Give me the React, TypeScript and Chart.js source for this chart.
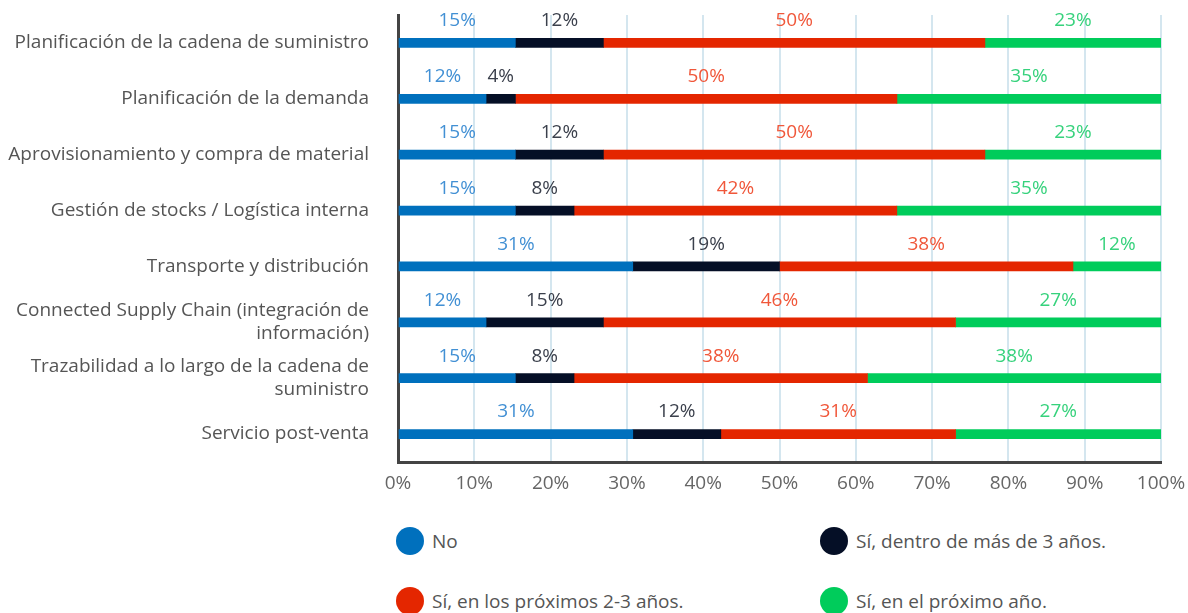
import React, { useEffect, useRef } from "react";
import { Chart, registerables } from "chart.js";

Chart.register(...registerables);

const categories: (string | string[])[] = [
  "Planificación de la cadena de suministro",
  "Planificación de la demanda",
  "Aprovisionamiento y compra de material",
  "Gestión de stocks / Logística interna",
  "Transporte y distribución",
  ["Connected Supply Chain (integración de", "información)"],
  ["Trazabilidad a lo largo de la cadena de", "suministro"],
  "Servicio post-venta",
];

const seriesNames = [
  "No",
  "Sí, dentro de más de 3 años.",
  "Sí, en los próximos 2-3 años.",
  "Sí, en el próximo año.",
];

const noValues = [15.38, 11.54, 15.38, 15.38, 30.77, 11.54, 15.38, 30.77];
const masDe3Values = [11.54, 3.85, 11.54, 7.69, 19.23, 15.38, 7.69, 11.54];
const proximos23Values = [50, 50, 50, 42.31, 38.46, 46.15, 38.46, 30.77];
const proximoAnoValues = [23.08, 34.62, 23.08, 34.62, 11.54, 26.92, 38.46, 26.92];

const barColors = ["#0070bd", "#050f26", "#e42600", "#00cc5b"];
const labelColors = ["#4290d4", "#3b404c", "#f0573a", "#36d27c"];

const FONT = "'Open Sans', sans-serif";
const WEIGHT = "400";

const segmentLabels = {
  id: "segmentLabels",
  afterDatasetsDraw(chart: any) {
    const ctx = chart.ctx;
    ctx.save();
    ctx.font = `${WEIGHT} 19px ${FONT}`;
    ctx.textAlign = "center";
    ctx.textBaseline = "middle";
    chart.data.datasets.forEach((ds: any, di: number) => {
      const meta = chart.getDatasetMeta(di);
      meta.data.forEach((bar: any, i: number) => {
        const v = ds.data[i];
        const left = Math.min(bar.x, bar.base);
        const right = Math.max(bar.x, bar.base);
        const cx = (left + right) / 2;
        ctx.fillStyle = labelColors[di];
        ctx.fillText(Math.round(v) + "%", cx, bar.y - 22);
      });
    });
    ctx.restore();
  },
};

export default function App() {
  const ref = useRef<HTMLCanvasElement>(null);
  useEffect(() => {
    if (!ref.current) return;
    const allValues = [noValues, masDe3Values, proximos23Values, proximoAnoValues];
    const chart = new Chart(ref.current, {
      type: "bar",
      data: {
        labels: categories,
        datasets: allValues.map((vals, i) => ({
          label: seriesNames[i],
          data: vals,
          backgroundColor: barColors[i],
          borderWidth: 0,
          barThickness: 9,
        })),
      },
      plugins: [segmentLabels],
      options: {
        indexAxis: "y",
        animation: false,
        responsive: false,
        maintainAspectRatio: false,
        layout: { padding: { top: 15, right: 27, left: 0, bottom: 0 } },
        plugins: {
          legend: { display: false },
          tooltip: { enabled: false },
        },
        scales: {
          x: {
            stacked: true,
            min: 0,
            max: 100,
            grid: { color: "#d4e6ef", lineWidth: 2, drawTicks: false },
            border: { display: true, color: "#444444", width: 3 },
            ticks: {
              stepSize: 10,
              padding: 10,
              color: "#666666",
              font: { family: FONT, size: 19, weight: WEIGHT },
              callback: (v: any) => v + "%",
            },
            afterFit: (s: any) => {
              s.height = 41;
              s.paddingLeft = 0;
              s.paddingRight = 0;
            },
          },
          y: {
            stacked: true,
            grid: { display: false, drawTicks: false },
            border: { display: true, color: "#444444", width: 3 },
            ticks: {
              padding: 29,
              color: "#555555",
              font: { family: FONT, size: 19, weight: WEIGHT, lineHeight: 1.2 },
            },
            afterFit: (s: any) => {
              s.width = 398;
              s.paddingTop = 0;
              s.paddingBottom = 0;
            },
          },
        },
      } as any,
    });
    return () => chart.destroy();
  }, []);

  const legendItem = (i: number, left: number, top: number) => (
    <div
      key={i}
      style={{
        position: "absolute",
        left,
        top,
        height: 28,
        display: "flex",
        alignItems: "center",
        fontFamily: FONT,
        fontWeight: 400,
        fontSize: 19,
        color: "#555555",
        whiteSpace: "nowrap",
      }}
    >
      <span
        style={{
          display: "inline-block",
          width: 28,
          height: 28,
          borderRadius: "50%",
          background: barColors[i],
          marginRight: 8,
          flex: "none",
        }}
      />
      <span>{seriesNames[i]}</span>
    </div>
  );

  return (
    <div
      style={{
        position: "absolute",
        left: 0,
        top: 0,
        width: 1188,
        height: 613,
        background: "#ffffff",
        overflow: "hidden",
      }}
    >
      <canvas ref={ref} width={1188} height={503} style={{ display: "block" }} />
      {legendItem(0, 396, 527)}
      {legendItem(1, 820, 527)}
      {legendItem(2, 396, 587)}
      {legendItem(3, 820, 587)}
    </div>
  );
}
